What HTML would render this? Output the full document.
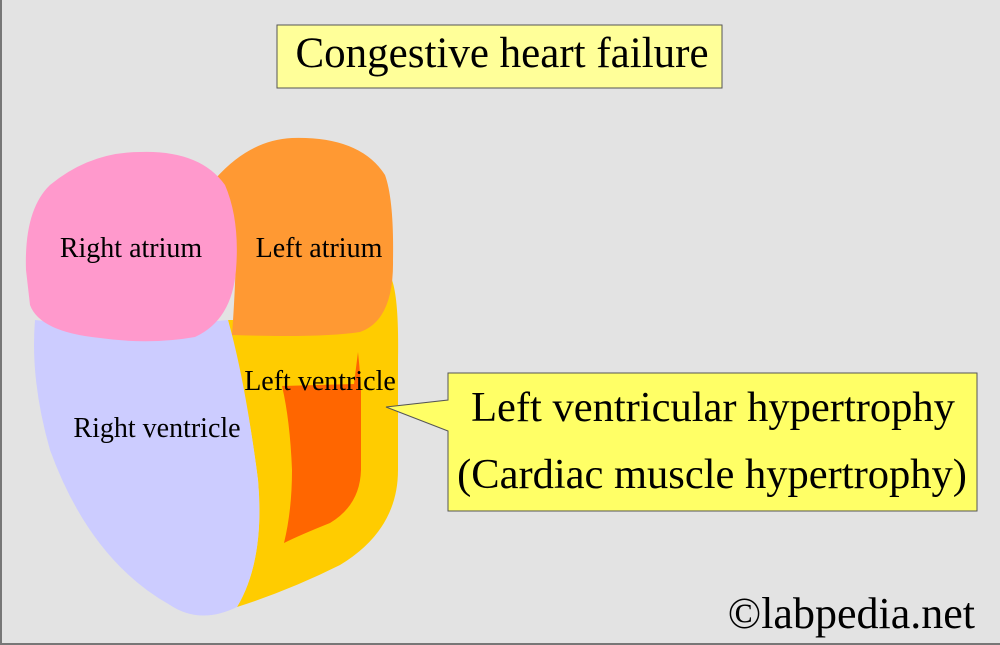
<!DOCTYPE html>
<html><head><style>
html,body{margin:0;padding:0;}
body{width:1000px;height:645px;background:#e3e3e3;position:relative;overflow:hidden;font-family:"Liberation Serif",serif;}
.frame{position:absolute;left:0;top:0;width:998px;height:643px;border-left:2px solid #777;border-bottom:2px solid #777;}
</style></head><body>
<div class="frame"></div>
<svg width="1000" height="645" style="position:absolute;left:0;top:0" font-family="Liberation Serif, serif">
<rect x="277" y="25" width="445" height="63" fill="#ffff99" stroke="#555" stroke-width="1"/>
<text x="502" y="67" font-size="43" text-anchor="middle">Congestive heart failure</text>
<path d="M228,320 L300,320 L392,280 Q399,300 398,360 L398,470 Q398,530 340,565 Q290,590 237,607 Q265,560 258,480 Q248,400 228,320 Z" fill="#ffcc00"/>
<path d="M216,178 Q250,140 292,138 Q360,136 385,175 Q394,200 393,260 Q394,320 360,332 Q320,338 232,335 Q236,280 236,240 Q232,200 216,178 Z" fill="#ff9933"/>
<path d="M35,320 Q30,380 50,450 Q90,560 170,605 Q200,625 237,607 Q265,560 258,480 Q245,380 228,320 Q120,330 35,320 Z" fill="#ccccff"/>
<path d="M26,270 Q24,210 50,185 Q90,152 140,152 Q200,150 225,185 Q240,220 236,270 Q232,320 195,337 Q150,345 100,338 Q40,332 30,305 Z" fill="#ff99cc"/>
<path d="M282,386 L354,384 L358,352 Q360,370 361,390 L361,470 Q360,505 330,523 Q300,535 284,543 Q292,510 292,470 Q290,420 282,386 Z" fill="#ff6600"/>
<text x="131" y="257" font-size="28" text-anchor="middle">Right atrium</text>
<text x="319" y="257" font-size="28" text-anchor="middle">Left atrium</text>
<text x="320" y="390" font-size="28" text-anchor="middle">Left ventricle</text>
<text x="157" y="437" font-size="28" text-anchor="middle">Right ventricle</text>
<path d="M448,373 L977,373 L977,511 L448,511 L448,431 L386,407 L448,400 Z" fill="#ffff66" stroke="#555" stroke-width="1"/>
<text x="713" y="421" font-size="42.5" text-anchor="middle">Left ventricular hypertrophy</text>
<text x="712" y="488" font-size="42.5" text-anchor="middle">(Cardiac muscle hypertrophy)</text>
<text x="975" y="628" font-size="44" text-anchor="end">©labpedia.net</text>
</svg>
</body></html>
